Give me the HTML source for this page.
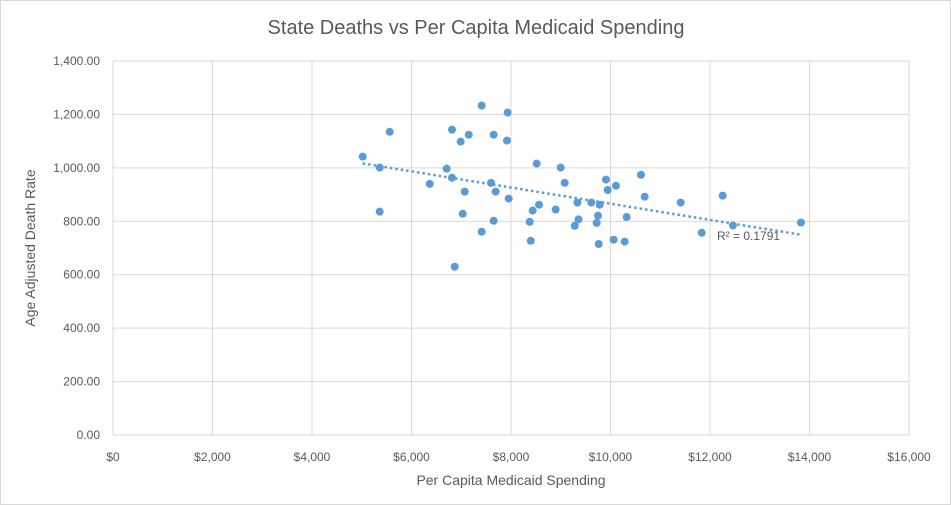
<!DOCTYPE html>
<html><head><meta charset="utf-8"><style>
html,body{margin:0;padding:0;background:#fff}
svg{display:block;font-family:"Liberation Sans",Arial,sans-serif}
</style></head><body>
<svg id="chart" width="951" height="505" viewBox="0 0 951 505">
<rect x="0.5" y="0.5" width="950" height="504" fill="#fff" stroke="#d9d9d9"/>
<text x="476" y="34" text-anchor="middle" font-size="20" fill="#595959">State Deaths vs Per Capita Medicaid Spending</text>
<g id="grid"></g>
<g id="marks"></g>
<text x="511" y="485" text-anchor="middle" font-size="14" fill="#595959">Per Capita Medicaid Spending</text>
<text transform="translate(35,248) rotate(-90)" text-anchor="middle" font-size="14" fill="#595959">Age Adjusted Death Rate</text>
</svg>
<script>
const xVals=[5019,5361,5562,5361,6366,6814,6707,6814,6989,7150,7411,7933,7652,7919,7069,7029,6868,7411,7652,7598,7692,7954,8516,8999,9079,8563,8436,8898,8376,8396,9336,9357,9282,9614,9783,9749,9722,9763,9909,9943,10110,10613,10687,10325,10064,10285,11411,12255,11833,12462,13829];
const yVals=[1042,1001,1135,836,940,1143,997,963,1098,1124,1233,1207,1124,1102,911,828,630,761,802,944,911,885,1016,1001,944,862,840,844,798,727,870,807,783,870,862,821,794,715,956,917,933,974,892,816,731,724,870,896,757,784,795];
const xTicks=[0,2000,4000,6000,8000,10000,12000,14000,16000];
const yTicks=[0,200,400,600,800,1000,1200,1400];
const r2Label="R² = 0.1791";
const X0=113,X1=909,Y0=435,Y1=61;
const sx=v=>X0+(v-0)/16000*(X1-X0);
const sy=v=>Y0-(v-0)/1400*(Y0-Y1);
const NS="http://www.w3.org/2000/svg";
const grid=document.getElementById('grid'),marks=document.getElementById('marks');
function mk(tag,attrs,parent){const e=document.createElementNS(NS,tag);for(const k in attrs)e.setAttribute(k,attrs[k]);parent.appendChild(e);return e;}
yTicks.forEach(t=>{
  const l=mk('line',{x1:X0,x2:X1,y1:sy(t),y2:sy(t),stroke:'#d9d9d9','stroke-width':1},grid);
  
  
  const tx=mk('text',{x:100,y:sy(t)+4,'text-anchor':'end','font-size':12,fill:'#595959'},grid);
  tx.textContent=t.toLocaleString('en-US',{minimumFractionDigits:2,maximumFractionDigits:2});
  
  
});
xTicks.forEach(t=>{
  const l=mk('line',{x1:sx(t),x2:sx(t),y1:Y1,y2:Y0,stroke:'#d9d9d9','stroke-width':1},grid);
  
  
  const tx=mk('text',{x:sx(t),y:461,'text-anchor':'middle','font-size':12,fill:'#595959'},grid);
  tx.textContent='$'+t.toLocaleString('en-US');
  
  
});
const n=xVals.length;let mx=0,my=0;for(let i=0;i<n;i++){mx+=xVals[i];my+=yVals[i];}mx/=n;my/=n;
let sxy=0,sxx=0;for(let i=0;i<n;i++){sxy+=(xVals[i]-mx)*(yVals[i]-my);sxx+=(xVals[i]-mx)**2;}
const b=sxy/sxx,a=my-b*mx;const xmin=Math.min(...xVals),xmax=Math.max(...xVals);
const tl=mk('line',{x1:sx(xmin),y1:sy(a+b*xmin),x2:sx(xmax),y2:sy(a+b*xmax),stroke:'#5b9bd5','stroke-width':2.5,'stroke-dasharray':'2.5 3'},marks);


for(let i=0;i<n;i++){
  const c=mk('circle',{cx:sx(xVals[i]),cy:sy(yVals[i]),r:4,fill:'#5b9bd5'},marks);
  
  
}
const rt=mk('text',{x:717,y:240,'font-size':12,fill:'#595959'},marks);
rt.textContent=r2Label;


</script>
</body></html>
